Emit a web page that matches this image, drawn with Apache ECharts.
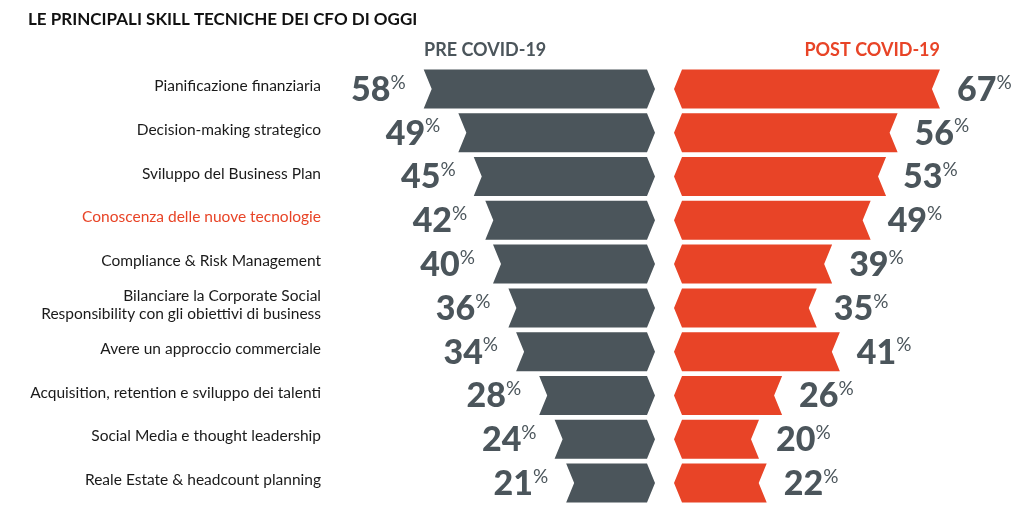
<!DOCTYPE html>
<html><head><meta charset="utf-8">
<script src="https://cdn.jsdelivr.net/npm/echarts@6/dist/echarts.min.js"></script>
<style>html,body{margin:0;padding:0;background:#fff}#c{width:1024px;height:513px}</style>
</head><body><div id="c"></div>
<script>
const categories = [
  'Pianificazione finanziaria',
  'Decision-making strategico',
  'Sviluppo del Business Plan',
  'Conoscenza delle nuove tecnologie',
  'Compliance & Risk Management',
  'Bilanciare la Corporate Social\nResponsibility con gli obiettivi di business',
  'Avere un approccio commerciale',
  'Acquisition, retention e sviluppo dei talenti',
  'Social Media e thought leadership',
  'Reale Estate & headcount planning'
];
const preCovid = [58, 49, 45, 42, 40, 36, 34, 28, 24, 21];
const postCovid = [67, 56, 53, 49, 39, 35, 41, 26, 20, 22];
const highlightIndex = 3;

const GRAY = '#4b555b', RED = '#e84427';
const FONT = 'Lato';
const rich = {
  v: { fontFamily: FONT, fontWeight: 900, fontSize: 34, fill: GRAY, color: GRAY },
  p: { fontFamily: FONT, fontWeight: 400, fontSize: 19, fill: GRAY, color: GRAY, verticalAlign: 'top', padding: [0, 0, 10, 0] }
};

function makeRender(side) {
  return function (params, api) {
    const v = api.value(0), cat = api.value(1);
    const s = api.coord([0, cat]);
    const e = api.coord([v, cat]);
    const h = api.size([0, 1])[1] * 0.89;
    const cy = s[1], top = cy - h / 2, bot = cy + h / 2, n = 8;
    const x1 = s[0], x0 = e[0];
    let pts, tx, align;
    if (side === 'left') {
      pts = [[x0, top], [x1, top], [x1 + n, cy], [x1, bot], [x0, bot], [x0 + n, cy]];
      tx = x0 - 18; align = 'right';
    } else {
      pts = [[x1, top], [x0, top], [x0 - n, cy], [x0, bot], [x1, bot], [x1 - n, cy]];
      tx = x0 + 17; align = 'left';
    }
    return {
      type: 'group',
      children: [
        { type: 'polygon', shape: { points: pts }, style: { fill: side === 'left' ? GRAY : RED } },
        { type: 'text', x: tx, y: cy + 1, style: {
            text: '{v|' + v + '}{p|%}', rich: rich, fill: GRAY,
            align: align, verticalAlign: 'middle', textAlign: align, textVerticalAlign: 'middle'
        } }
      ]
    };
  };
}

const chart = echarts.init(document.getElementById('c'));
chart.setOption({
  animation: false,
  textStyle: { fontFamily: FONT },
  title: {
    text: 'LE PRINCIPALI SKILL TECNICHE DEI CFO DI OGGI',
    left: 23, top: 6,
    textStyle: { fontFamily: FONT, fontWeight: 'bold', fontSize: 17, color: '#111' }
  },
  graphic: [
    { type: 'text', left: 424, top: 41, style: { text: 'PRE COVID-19', fill: GRAY, font: 'bold 18px ' + FONT } },
    { type: 'text', right: 84, top: 41, style: { text: 'POST COVID-19', fill: RED, font: 'bold 18px ' + FONT } }
  ],
  grid: [
    { left: 339, right: 377, top: 67, bottom: 8 },
    { left: 682, right: 34, top: 67, bottom: 8 }
  ],
  xAxis: [
    { type: 'value', gridIndex: 0, min: 0, max: 80, inverse: true, show: false },
    { type: 'value', gridIndex: 1, min: 0, max: 80, show: false }
  ],
  yAxis: [
    { type: 'category', gridIndex: 0, data: categories, inverse: true, position: 'left',
      axisLine: { show: false }, axisTick: { show: false },
      axisLabel: {
        margin: 18, fontFamily: FONT, fontSize: 15.5, color: '#1a1a1a', lineHeight: 18,
        padding: [0, 0, 6, 0],
        formatter: function (val, idx) { return idx === highlightIndex ? '{r|' + val + '}' : val; },
        rich: { r: { color: RED, fontFamily: FONT, fontSize: 15.5, lineHeight: 18 } }
      } },
    { type: 'category', gridIndex: 1, data: categories, inverse: true, show: false }
  ],
  series: [
    { type: 'custom', xAxisIndex: 0, yAxisIndex: 0, renderItem: makeRender('left'),
      data: preCovid.map((v, i) => [v, i]), encode: { x: 0, y: 1 } },
    { type: 'custom', xAxisIndex: 1, yAxisIndex: 1, renderItem: makeRender('right'),
      data: postCovid.map((v, i) => [v, i]), encode: { x: 0, y: 1 } }
  ]
});
</script></body></html>
